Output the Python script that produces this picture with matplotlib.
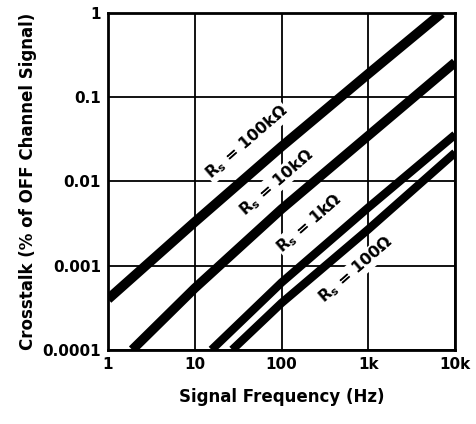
import numpy as np
import matplotlib.pyplot as plt
from matplotlib.ticker import FixedLocator, FixedFormatter

# Data (log-log, crosstalk vs signal frequency)
freq_100k = [1, 10, 100, 1000, 7000]
xt_100k = [4.0e-4, 3.3e-3, 0.026, 0.19, 1.0]

freq_10k = [1.9, 10, 100, 1000, 10000]
xt_10k = [1.0e-4, 5.4e-4, 4.7e-3, 0.035, 0.26]

freq_1k = [15.6, 100, 1000, 10000]
xt_1k = [1.0e-4, 6.3e-4, 4.9e-3, 0.036]

freq_100 = [27, 100, 1000, 10000]
xt_100 = [1.0e-4, 3.6e-4, 2.7e-3, 0.022]

labels = [r'R$_{\rm s}$ = 100k$\Omega$', r'R$_{\rm s}$ = 10k$\Omega$',
          r'R$_{\rm s}$ = 1k$\Omega$', r'R$_{\rm s}$ = 100$\Omega$']
label_pos = [(40, 0.029), (87, 0.0098), (209, 0.0032), (724, 0.00089)]

x_ticks = [1, 10, 100, 1000, 10000]
x_ticklabels = ['1', '10', '100', '1k', '10k']
y_ticks = [0.0001, 0.001, 0.01, 0.1, 1]
y_ticklabels = ['0.0001', '0.001', '0.01', '0.1', '1']

plt.rcParams['font.family'] = ['DejaVu Sans']
plt.rcParams['mathtext.fontset'] = 'custom'
plt.rcParams['mathtext.rm'] = 'DejaVu Sans:bold'
plt.rcParams['mathtext.it'] = 'DejaVu Sans:bold'
plt.rcParams['mathtext.bf'] = 'DejaVu Sans:bold'

fig = plt.figure(figsize=(4.76, 4.24), dpi=100)
ax = fig.add_axes([0.227, 0.175, 0.729, 0.794])
ax.set_xscale('log')
ax.set_yscale('log')
ax.set_xlim(1, 10000)
ax.set_ylim(0.0001, 1)

ax.plot(freq_100k, xt_100k, color='black', lw=7.0, solid_capstyle='butt', zorder=3)
ax.plot(freq_10k, xt_10k, color='black', lw=6.8, solid_capstyle='butt', zorder=3)
ax.plot(freq_1k, xt_1k, color='black', lw=6.0, solid_capstyle='butt', zorder=3)
ax.plot(freq_100, xt_100, color='black', lw=6.0, solid_capstyle='butt', zorder=3)

for (x, y), lab in zip(label_pos, labels):
    ax.text(x, y, lab, rotation=41, ha='center', va='center', fontsize=11.5,
            fontweight='bold', zorder=4,
            bbox=dict(facecolor='white', edgecolor='none', pad=0.5))

ax.xaxis.set_major_locator(FixedLocator(x_ticks))
ax.xaxis.set_major_formatter(FixedFormatter(x_ticklabels))
ax.yaxis.set_major_locator(FixedLocator(y_ticks))
ax.yaxis.set_major_formatter(FixedFormatter(y_ticklabels))
ax.xaxis.set_minor_locator(FixedLocator([]))
ax.yaxis.set_minor_locator(FixedLocator([]))
ax.tick_params(length=0, pad=5, labelsize=11)
for t in ax.get_xticklabels() + ax.get_yticklabels():
    t.set_fontweight('bold')

ax.grid(True, color='black', lw=1.3, zorder=1)
for s in ax.spines.values():
    s.set_linewidth(2.0)

ax.set_xlabel('Signal Frequency (Hz)', fontsize=12, fontweight='bold', labelpad=12)
ax.set_ylabel('Crosstalk (% of OFF Channel Signal)', fontsize=12, fontweight='bold', labelpad=4)

fig.savefig('out.png', dpi=100)
